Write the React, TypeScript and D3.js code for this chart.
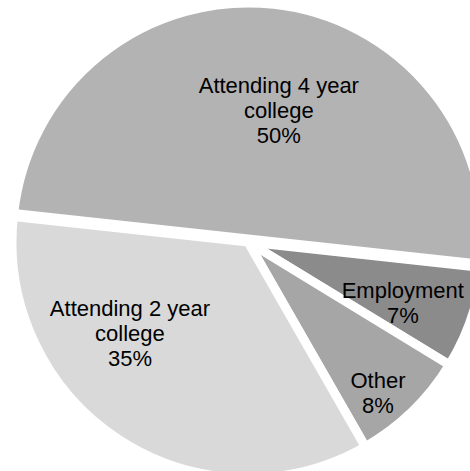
import React from "react";
import * as d3 from "d3";

const categories = ["Attending 4 year college", "Employment", "Other", "Attending 2 year college"];
const values = [50, 7, 8, 35];
const labelLines = [
  ["Attending 4 year", "college", "50%"],
  ["Employment", "7%"],
  ["Other", "8%"],
  ["Attending 2 year", "college", "35%"],
];
const colors = ["#b3b3b3", "#8b8b8b", "#a6a6a6", "#d9d9d9"];
// label placement: angular shift from slice mid (deg) and radius as fraction of pie radius
const labelShift = [7.8, 5, 4.8, 16.9];
const labelRadius = [0.54, 0.717, 0.868, 0.652];
const explode = [3, 0, 0, 0];

const W = 470;
const H = 471;
const cx = 248;
const cy = 242;
const R = 236;
const startDeg = -83.8;
const lineH = 25;

export default function App() {
  const pie = d3
    .pie<number>()
    .sort(null)
    .value((d) => d)
    .startAngle((startDeg * Math.PI) / 180)
    .endAngle((startDeg * Math.PI) / 180 + 2 * Math.PI);
  const arcs = pie(values);
  const arc = d3.arc<d3.PieArcDatum<number>>().innerRadius(0).outerRadius(R);

  return (
    <svg
      width={W}
      height={H}
      style={{ position: "absolute", left: 0, top: 0, background: "#fff" }}
      fontFamily="'Liberation Sans', Arial, Helvetica, sans-serif"
    >
      <g transform={`translate(${cx},${cy})`}>
        {arcs.map((a, i) => {
          const mid = (a.startAngle + a.endAngle) / 2;
          const ox = explode[i] * Math.sin(mid);
          const oy = -explode[i] * Math.cos(mid);
          return (
            <path
              key={categories[i]}
              transform={`translate(${ox},${oy})`}
              d={arc(a) || ""}
              fill={colors[i]}
              stroke="#fff"
              strokeWidth={9}
              strokeLinejoin="miter"
            />
          );
        })}
        {arcs.map((a, i) => {
          const mid = (a.startAngle + a.endAngle) / 2 + (labelShift[i] * Math.PI) / 180;
          const r = R * labelRadius[i];
          const x = r * Math.sin(mid);
          const y = -r * Math.cos(mid);
          const lines = labelLines[i];
          const first = y - ((lines.length - 1) / 2) * lineH;
          return (
            <text key={"l" + i} textAnchor="middle" fontSize={22} fill="#000">
              {lines.map((t, j) => (
                <tspan key={j} x={x} y={first + j * lineH}>
                  {t}
                </tspan>
              ))}
            </text>
          );
        })}
      </g>
    </svg>
  );
}
